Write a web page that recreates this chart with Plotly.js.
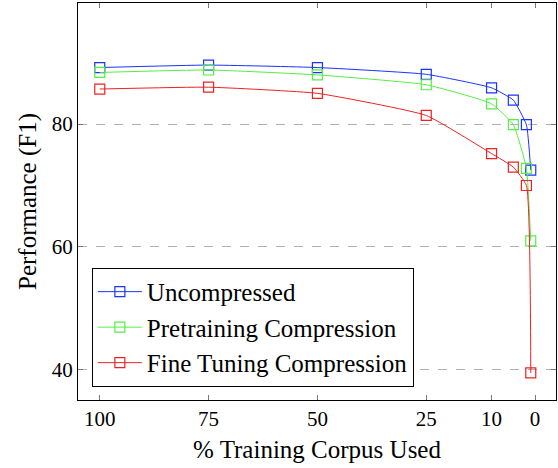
<!DOCTYPE html>
<html>
<head>
<meta charset="utf-8">
<script src="https://cdn.plot.ly/plotly-3.0.1.min.js"></script>
<style>
html,body{margin:0;padding:0;background:#fff;}
#chart{width:558px;height:468px;}
</style>
</head>
<body>
<div id="chart"></div>
<script>
var corpusPct = [100, 75, 50, 25, 10, 5, 2, 1];
var uncompressed = [89.2, 89.6, 89.2, 88.1, 85.9, 83.9, 79.9, 72.5];
var pretraining = [88.4, 88.8, 88.0, 86.4, 83.3, 79.9, 72.8, 61.0];
var fineTuning = [85.7, 86.0, 85.0, 81.4, 75.2, 73.0, 70.0, 39.5];
var xTickVals = [100, 75, 50, 25, 10, 0];
var xTickText = ['100', '75', '50', '25', '10', '0'];
var yTickVals = [40, 60, 80];

var FONT = 'Liberation Serif, Times New Roman, serif';

function series(name, y, color) {
  return {
    x: corpusPct, y: y, name: name, type: 'scatter', mode: 'lines+markers',
    line: {color: color, width: 1, shape: 'spline', smoothing: 0.4},
    marker: {symbol: 'square-open', size: 10, color: color, line: {width: 1.2, color: color}}
  };
}

var data = [
  series('Uncompressed', uncompressed, '#1a33ff'),
  series('Pretraining Compression', pretraining, '#55ee44'),
  series('Fine Tuning Compression', fineTuning, '#ee2222')
];

var layout = {
  width: 558, height: 468,
  margin: {l: 78, r: 2, t: 3, b: 68},
  paper_bgcolor: '#fff', plot_bgcolor: '#fff',
  font: {family: FONT, color: '#000', size: 21},
  showlegend: true,
  legend: {
    x: 0.029, y: 0.033, xanchor: 'left', yanchor: 'bottom',
    bgcolor: '#fff', bordercolor: '#000', borderwidth: 1,
    font: {family: FONT, size: 25, color: '#000'},
    itemwidth: 44, tracegroupgap: 0
  },
  xaxis: {
    range: [105, -4.8],
    tickvals: xTickVals, ticktext: xTickText,
    ticks: 'inside', ticklen: 5, tickcolor: '#777', tickwidth: 1,
    showline: true, linecolor: '#000', linewidth: 1, mirror: 'ticks',
    showgrid: false, zeroline: false,
    tickfont: {family: FONT, size: 21},
    title: {text: '% Training Corpus Used', font: {family: FONT, size: 25}, standoff: 10}
  },
  yaxis: {
    range: [35.1, 99.7],
    tickvals: yTickVals,
    ticks: 'inside', ticklen: 5, tickcolor: '#777', tickwidth: 1,
    showline: true, linecolor: '#000', linewidth: 1, mirror: 'ticks',
    showgrid: true, gridcolor: '#b0b0b0', griddash: 'dash', gridwidth: 1,
    zeroline: false,
    tickfont: {family: FONT, size: 21},
    title: {text: 'Performance (F1)', font: {family: FONT, size: 25}, standoff: 8}
  }
};

Plotly.newPlot('chart', data, layout, {staticPlot: true, displayModeBar: false});
</script>
</body>
</html>
